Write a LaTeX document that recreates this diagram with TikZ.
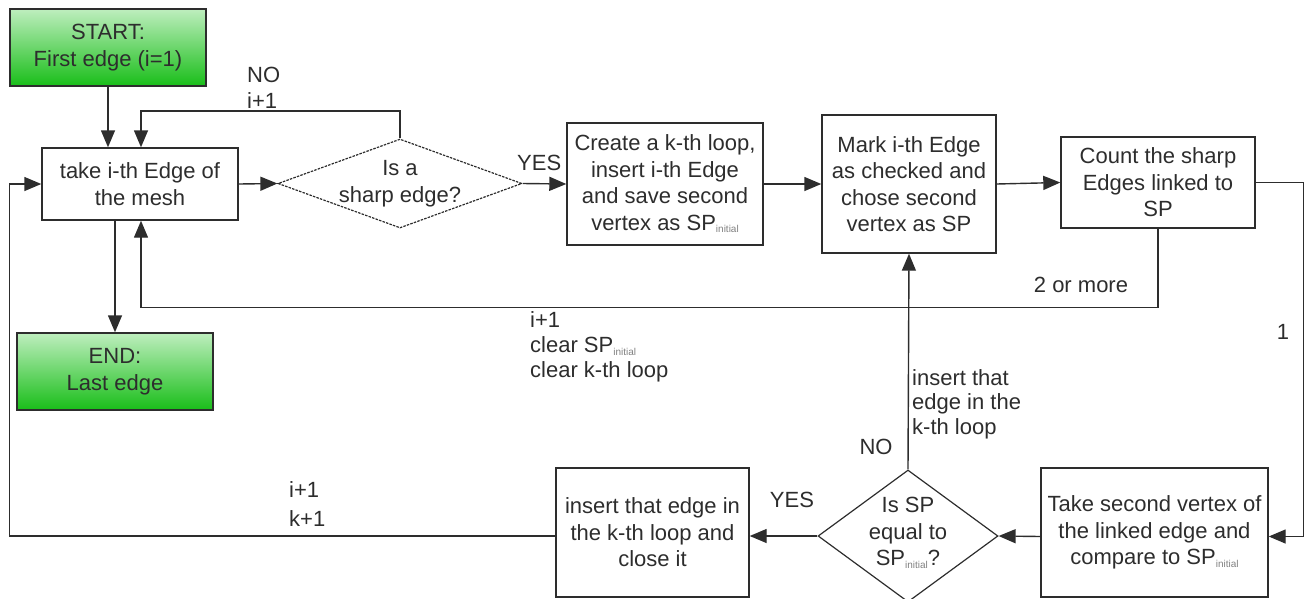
\documentclass[tikz,border=0pt]{standalone}
\usepackage{fontspec}
\setmainfont{Liberation Sans}
\usetikzlibrary{shapes.geometric,arrows.meta}
\definecolor{ink}{RGB}{45,45,45}
\definecolor{gtop}{RGB}{190,238,190}
\definecolor{gbot}{RGB}{25,190,25}
\newcommand\spinit{SP\raisebox{-2.5pt}{\textcolor{gray}{\fontsize{10}{10}\selectfont initial}}}
\begin{document}
\begin{tikzpicture}[x=1pt,y=-1pt,
  every node/.style={font=\fontsize{22}{26.5}\selectfont, text=ink},
  box/.style={draw=ink, line width=1.4pt, align=center, inner sep=0pt},
  term/.style={box, top color=gtop, bottom color=gbot},
  dia/.style={draw=ink, line width=1.2pt, shape=diamond, inner sep=0pt},
  lbl/.style={align=left, inner sep=0pt},
  arr/.style={draw=ink, line width=1.4pt, -{Triangle[length=17pt,width=14pt]}}]
\useasboundingbox (0,0) rectangle (1307,598);
% nodes
\node[term, minimum width=196, minimum height=77] (start) at (108,47.5) {START:\\First edge (i=1)};
\node[box, minimum width=196, minimum height=72] (take) at (140,184) {take i-th Edge of\\the mesh};
\node[term, minimum width=196, minimum height=77] (end) at (115,371.5) {END:\\Last edge};
\node[dia, dash pattern=on 2.5pt off 1.2pt, minimum width=244, minimum height=89] (d1) at (400,183.5) {};
\node[align=center, inner sep=0pt] (d1t) at (400,183.5) {Is a\\sharp edge?};
\node[box, minimum width=196, minimum height=122] (create) at (665,184) {Create a k-th loop,\\insert i-th Edge\\and save second\\vertex as \spinit};
\node[box, minimum width=174, minimum height=138] (mark) at (909,184) {Mark i-th Edge\\as checked and\\chose second\\vertex as SP};
\node[box, minimum width=194, minimum height=91] (count) at (1158,182.5) {Count the sharp\\Edges linked to\\SP};
\node[box, minimum width=227, minimum height=129] (cmp) at (1154.5,532.5) {Take second vertex of\\the linked edge and\\compare to \spinit};
\node[dia, minimum width=180, minimum height=132] (d2) at (908,536) {};
\node[align=center, inner sep=0pt] (d2t) at (908,533) {Is SP\\equal to\\\spinit?};
\node[box, minimum width=193, minimum height=129] (ins) at (652.5,532.5) {insert that edge in\\the k-th loop and\\close it};
% connectors
\draw[arr] (start.south) -- (start.south |- take.north);
\draw[arr] (d1.north) -- ++(0,-27.5) -| ([xshift=1pt]take.north);
\draw[arr] (take.east) -- (d1.west);
\draw[arr] (d1.east) -- (create.west);
\draw[arr] (create.east) -- (mark.west);
\draw[arr] (mark.east) -- (count.west);
\draw[arr] (count.east) -- ++(48,0) |- ([yshift=-4pt]cmp.east);
\draw[arr] ([yshift=-4pt]cmp.west) -- (d2.east);
\draw[arr] (d2.west) -- ([yshift=-3.5pt]ins.east);
\draw[arr] (d2.north) -- (mark.south);
\draw[arr] ([yshift=-3.5pt]ins.west) -- ++(-546,0) |- (take.west);
\draw[arr] (count.south) -- ++(0,79) -| ([xshift=1pt]take.south);
\draw[arr] (take.south -| end.north) -- (end.north);
% labels
\node[lbl, anchor=west, font=\fontsize{22}{26}\selectfont] (l1) at (247,88) {NO\\i+1};
\node[lbl, anchor=west] (l2) at (517,163) {YES};
\node[lbl] (l3) at (1081,285) {2 or more};
\node[lbl] (l4) at (1283,332) {1};
\node[lbl, anchor=west, font=\fontsize{22}{25}\selectfont] (l5) at (530,347) {i+1\\clear \spinit\\clear k-th loop};
\node[lbl, anchor=west, font=\fontsize{22}{29}\selectfont] (l6) at (289,504.5) {i+1\\k+1};
\node[lbl] (l7) at (792,500) {YES};
\node[lbl] (l8) at (876,447) {NO};
\node[lbl, anchor=west, font=\fontsize{22}{24.5}\selectfont] (l9) at (912,404) {insert that\\edge in the\\k-th loop};
\end{tikzpicture}
\end{document}
